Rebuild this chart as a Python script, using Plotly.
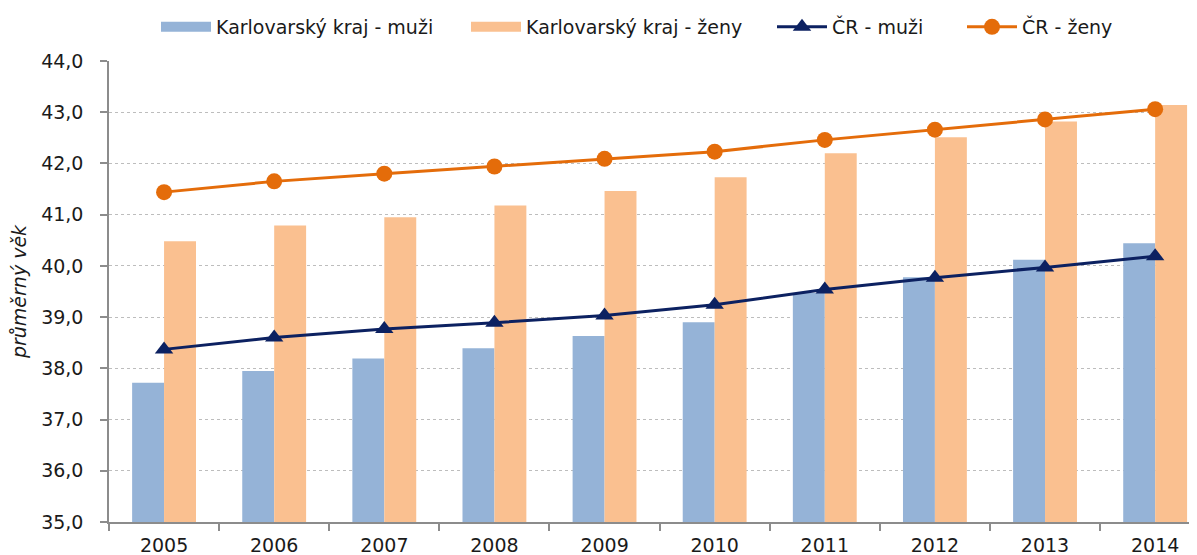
import plotly.graph_objects as go

years = ["2005", "2006", "2007", "2008", "2009", "2010", "2011", "2012", "2013", "2014"]
kv_muzi = [37.72, 37.95, 38.19, 38.39, 38.63, 38.90, 39.47, 39.78, 40.12, 40.44]
kv_zeny = [40.48, 40.79, 40.95, 41.18, 41.46, 41.73, 42.20, 42.51, 42.82, 43.14]
cr_muzi = [38.37, 38.60, 38.77, 38.89, 39.03, 39.24, 39.54, 39.77, 39.97, 40.19]
cr_zeny = [41.44, 41.65, 41.80, 41.94, 42.09, 42.23, 42.46, 42.66, 42.86, 43.06]
y_ticks = [35, 36, 37, 38, 39, 40, 41, 42, 43, 44]

FONT = "DejaVu Sans"
FS = 19
TXT = "#1a1a1a"
C_KM, C_KZ, C_CM, C_CZ = "#95B3D7", "#FAC090", "#0C2161", "#E46C0A"

fig = go.Figure()
fig.add_trace(go.Bar(x=years, y=kv_muzi, name="Karlovarský kraj - muži",
                     marker=dict(color=C_KM, line=dict(width=0)), showlegend=False))
fig.add_trace(go.Bar(x=years, y=kv_zeny, name="Karlovarský kraj - ženy",
                     marker=dict(color=C_KZ, line=dict(width=0)), showlegend=False))
# legend entries for the bar series (wide rectangle swatches)
fig.add_trace(go.Scatter(x=[None], y=[None], mode="lines", name="Karlovarský kraj - muži",
                         line=dict(color=C_KM, width=13), legend="legend", showlegend=True))
fig.add_trace(go.Scatter(x=[None], y=[None], mode="lines", name="Karlovarský kraj - ženy",
                         line=dict(color=C_KZ, width=13), legend="legend2", showlegend=True))
fig.add_trace(go.Scatter(x=years, y=cr_muzi, name="ČR - muži", mode="lines+markers",
                         line=dict(color=C_CM, width=3),
                         marker=dict(symbol="triangle-up", size=16, color=C_CM),
                         legend="legend3", showlegend=True))
fig.add_trace(go.Scatter(x=years, y=cr_zeny, name="ČR - ženy", mode="lines+markers",
                         line=dict(color=C_CZ, width=3),
                         marker=dict(symbol="circle", size=16, color=C_CZ),
                         legend="legend4", showlegend=True))

# page body has an 8px default margin; work in figure coordinates
W, H = 1189, 547
L, R, T, B = 101, 0, 53, 33
pw, ph = W - L - R, H - T - B

def px(x):
    return (x - L) / pw

def py(y):
    return 1 - (y - T) / ph

leg_common = dict(orientation="h", xanchor="left", yanchor="middle",
                  font=dict(family=FONT, size=FS, color=TXT),
                  bgcolor="rgba(0,0,0,0)", itemwidth=50, tracegroupgap=0)

fig.update_layout(
    width=W, height=H,
    margin=dict(l=L, r=R, t=T, b=B, autoexpand=False),
    plot_bgcolor="white", paper_bgcolor="white",
    separators=", ",
    showlegend=True,
    barmode="group", bargap=0.42, bargroupgap=0,
    font=dict(family=FONT, size=FS, color=TXT),
    legend=dict(x=px(148), y=py(19), **leg_common),
    legend2=dict(x=px(458), y=py(19), **leg_common),
    legend3=dict(x=px(764), y=py(19), **leg_common),
    legend4=dict(x=px(954), y=py(19), **leg_common),
    xaxis=dict(type="category", range=[-0.5, 9.38], tickson="boundaries",
               automargin=False, ticklabelstandoff=5,
               ticks="outside", ticklen=7, tickcolor="#8c8c8c", tickwidth=1.5,
               showline=True, linecolor="#8c8c8c", linewidth=1.5,
               showgrid=False, tickfont=dict(family=FONT, size=FS, color=TXT)),
    yaxis=dict(range=[35, 44], tickvals=y_ticks, tickformat=".1f",
               automargin=False, ticklabelstandoff=13,
               ticks="outside", ticklen=7, tickcolor="#8c8c8c", tickwidth=1.5,
               showline=True, linecolor="#8c8c8c", linewidth=1.5,
               showgrid=True, gridcolor="#bdbdbd", griddash="dot", gridwidth=1,
               zeroline=False,
               tickfont=dict(family=FONT, size=FS, color=TXT),
               title=dict(text="<i>průměrný věk</i>", standoff=10,
                          font=dict(family=FONT, size=FS, color=TXT))),
)

fig.write_html("out.html")
